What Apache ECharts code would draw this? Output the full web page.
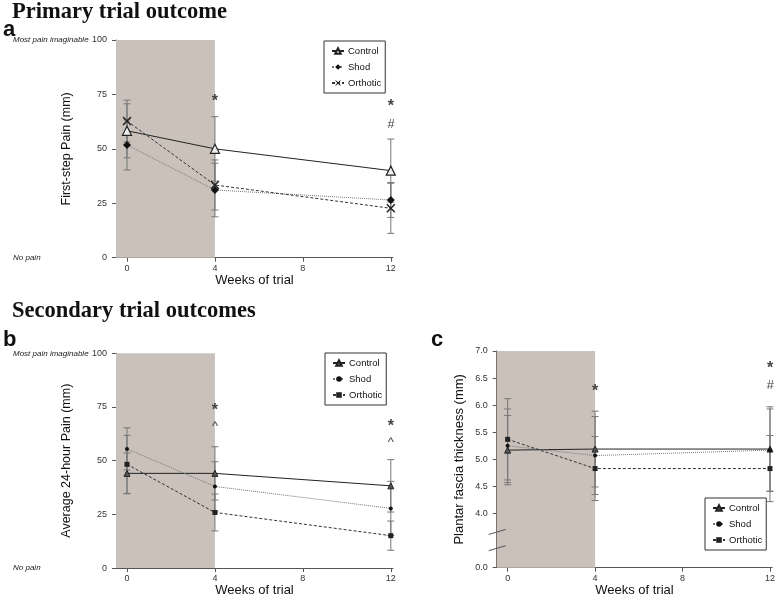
<!DOCTYPE html>
<html>
<head>
<meta charset="utf-8">
<script src="https://cdn.jsdelivr.net/npm/echarts@6/dist/echarts.min.js"></script>
<style>html,body{margin:0;padding:0;background:#fff}#c{width:778px;height:598px}</style>
</head>
<body>
<div id="c"></div>
<script>
// ---- data ----
const weeks = [0, 4, 12];
const weekTicks = [0, 4, 8, 12];
const shadedUntil = 4;
const seriesNames = ['Control', 'Shod', 'Orthotic'];

// Panel a: first-step pain (mm)
const aControl = [58.3, 50.0, 40.0];
const aControlErr = [12.4, 14.8, 14.5];
const aShod = [51.8, 31.1, 26.5];
const aShodErr = [11.5, 12.3, 8.0];
const aOrthotic = [62.8, 33.4, 22.7];
const aOrthoticErr = [9.6, 11.5, 11.5];
const aNotes = [[4, 72.9, '*'], [12, 70.6, '*'], [12, 61.3, '#']];

// Panel b: average 24-hour pain (mm)
const bControl = [44.1, 44.1, 38.3];
const bControlErr = [9.5, 12.4, 12.2];
const bShod = [55.5, 38.0, 27.8];
const bShodErr = [9.8, 11.5, 12.6];
const bOrthotic = [48.3, 25.9, 15.1];
const bOrthoticErr = [13.5, 8.6, 6.8];
const bNotes = [[4, 74.7, '*'], [4, 66.0, '^'], [12, 67.3, '*'], [12, 58.6, '^']];

// Panel c: plantar fascia thickness (mm)
const cControl = [5.17, 5.19, 5.19];
const cControlErr = [0.64, 0.70, 0.78];
const cShod = [5.25, 5.07, 5.17];
const cShodErr = [0.68, 0.72, 0.76];
const cOrthotic = [5.37, 4.83, 4.83];
const cOrthoticErr = [0.75, 0.59, 0.61];
const cNotes = [[4, 6.31, '*'], [12, 6.73, '*'], [12, 6.36, '#']];

const painTicks = [0, 25, 50, 75, 100];
const painScaleLabels = {0: 'No pain', 100: 'Most pain imaginable'};
const thickTicks = [3, 4, 4.5, 5, 5.5, 6, 6.5, 7];   // 3 = broken-axis floor shown as 0.0
const thickFloorLabel = '0.0';
const breakLevels = [3.36, 3.66];

// ---- helpers ----
const SANS = 'Liberation Sans, Arial, sans-serif';
const SERIF = 'Liberation Serif, Times New Roman, serif';
const SHADE = '#c9c1ba';
const AX = '#555';
const pts = v => weeks.map((w, i) => [w, v[i]]);
const errs = (v, e) => weeks.map((w, i) => [w, v[i] - e[i], v[i] + e[i]]);

function errSeries(xi, yi, v, e) {
  return {
    type: 'custom', xAxisIndex: xi, yAxisIndex: yi, silent: true, z: 2, clip: false,
    data: errs(v, e),
    renderItem: (p, api) => {
      const x = api.value(0), lo = api.coord([x, api.value(1)]), hi = api.coord([x, api.value(2)]);
      const hw = 3.5, st = {stroke: '#777', lineWidth: 1};
      return {type: 'group', children: [
        {type: 'line', shape: {x1: lo[0], y1: lo[1], x2: hi[0], y2: hi[1]}, style: st},
        {type: 'line', shape: {x1: lo[0] - hw, y1: lo[1], x2: lo[0] + hw, y2: lo[1]}, style: st},
        {type: 'line', shape: {x1: hi[0] - hw, y1: hi[1], x2: hi[0] + hw, y2: hi[1]}, style: st}
      ]};
    }
  };
}
function noteSeries(xi, yi, notes) {
  return {
    type: 'custom', xAxisIndex: xi, yAxisIndex: yi, silent: true, z: 5, clip: false,
    data: notes,
    renderItem: (p, api) => {
      const c = api.coord([api.value(0), api.value(1)]);
      const t = notes[p.dataIndex][2];
      const font = t === '*' ? 'bold 16px ' + SANS : (t === '#' ? 'italic 13px ' + SANS : '13px ' + SANS);
      return {type: 'text', x: c[0], y: c[1] + (t === '*' ? 3 : 0), style: {text: t, fill: '#444', font: font, align: 'center', verticalAlign: 'middle'}};
    }
  };
}
const XSYM = 'path://M0,1.2L1.2,0L5,3.8L8.8,0L10,1.2L6.2,5L10,8.8L8.8,10L5,6.2L1.2,10L0,8.8L3.8,5Z';
function lineSeries(prefix, name, xi, yi, vals, big, shade) {
  const s = {type: 'line', name: prefix + name, xAxisIndex: xi, yAxisIndex: yi, data: pts(vals), z: 3, animation: false};
  if (name === 'Control') {
    s.symbol = 'triangle'; s.symbolSize = big ? 9 : 6;
    s.itemStyle = {color: big ? '#eee' : '#555', borderColor: '#222', borderWidth: big ? 1.2 : 1};
    s.lineStyle = {color: '#222', width: 1, type: 'solid'};
  } else if (name === 'Shod') {
    s.symbol = big ? 'diamond' : 'circle'; s.symbolSize = big ? 8 : 4;
    s.itemStyle = {color: '#111'};
    s.lineStyle = {color: '#777', width: 1, type: 'dotted'};
  } else {
    s.symbol = big ? XSYM : 'rect'; s.symbolSize = big ? 9 : 5;
    s.itemStyle = {color: '#222'};
    s.lineStyle = {color: '#333', width: 1, type: [3, 2]};
  }
  if (shade) {
    s.markArea = {silent: true, itemStyle: {color: SHADE}, data: [[{xAxis: -0.5}, {xAxis: shadedUntil}]]};
  }
  return s;
}
function legend(prefix, left, top) {
  return {
    orient: 'vertical', left: left, top: top,
    data: seriesNames.map(n => prefix + n),
    formatter: n => n.slice(prefix.length),
    borderColor: '#333', borderWidth: 1, backgroundColor: '#fff',
    padding: [4, 4, 4, 7], itemWidth: 12, itemHeight: 7, itemGap: 4,
    selectedMode: false,
    textStyle: {fontFamily: SANS, fontSize: 9.5, color: '#111', lineHeight: 12, padding: [0, 0, 0, -1]}
  };
}
function xAxis(gi, nameGap) {
  return {
    type: 'value', gridIndex: gi, min: -0.5, max: 12.1,
    name: 'Weeks of trial', nameLocation: 'middle', nameGap: nameGap,
    nameTextStyle: {fontFamily: SANS, fontSize: 13, color: '#111'},
    axisLine: {onZero: false, lineStyle: {color: AX, width: 1}},
    axisTick: {show: true, length: 4, customValues: weekTicks, lineStyle: {color: AX}},
    axisLabel: {customValues: weekTicks, fontFamily: SANS, fontSize: 9, color: '#333', margin: 6},
    splitLine: {show: false}
  };
}
function painAxis(gi, name) {
  return {
    type: 'value', gridIndex: gi, min: 0, max: 100, interval: 25, position: 'left',
    name: name, nameLocation: 'middle', nameGap: 43,
    nameTextStyle: {fontFamily: SANS, fontSize: 12.5, color: '#111'},
    axisLine: {show: true, onZero: false, lineStyle: {color: AX, width: 1}},
    axisTick: {show: true, length: 4, lineStyle: {color: AX}},
    axisLabel: {fontFamily: SANS, fontSize: 9, color: '#333', margin: 9},
    splitLine: {show: false}
  };
}
function painSideAxis(gi) {
  return {
    type: 'value', gridIndex: gi, min: 0, max: 100, position: 'left',
    axisLine: {show: false}, axisTick: {show: false}, splitLine: {show: false},
    axisLabel: {customValues: [0, 100], formatter: v => painScaleLabels[v], align: 'left', margin: 103,
      fontFamily: SANS, fontSize: 8, fontStyle: 'italic', color: '#222'}
  };
}

const chart = echarts.init(document.getElementById('c'), null, {renderer: 'canvas'});
const option = {
  backgroundColor: '#fff',
  animation: false,
  title: [
    {text: 'Primary trial outcome', left: 12, top: 1, padding: 0, textStyle: {fontFamily: SERIF, fontWeight: 'bold', fontSize: 22.5, color: '#111'}},
    {text: 'Secondary trial outcomes', left: 12, top: 300, padding: 0, textStyle: {fontFamily: SERIF, fontWeight: 'bold', fontSize: 22.5, color: '#111'}},
    {text: 'a', left: 3, top: 19, padding: 0, textStyle: {fontFamily: SANS, fontWeight: 'bold', fontSize: 22, color: '#111'}},
    {text: 'b', left: 3, top: 329, padding: 0, textStyle: {fontFamily: SANS, fontWeight: 'bold', fontSize: 22, color: '#111'}},
    {text: 'c', left: 431, top: 329, padding: 0, textStyle: {fontFamily: SANS, fontWeight: 'bold', fontSize: 22, color: '#111'}}
  ],
  legend: [legend('a:', 324, 41), legend('b:', 325, 353), legend('c:', 705, 498)],
  grid: [
    {left: 116, top: 40, width: 277, height: 217.7},
    {left: 116, top: 353.3, width: 277, height: 216},
    {left: 496.7, top: 351, width: 276.3, height: 216.7}
  ],
  xAxis: [xAxis(0, 15), xAxis(1, 15), xAxis(2, 15)],
  yAxis: [
    painAxis(0, 'First-step Pain (mm)'),
    painSideAxis(0),
    painAxis(1, 'Average 24-hour Pain (mm)'),
    painSideAxis(1),
    {
      type: 'value', gridIndex: 2, min: 3, max: 7, position: 'left',
      name: 'Plantar fascia thickness (mm)', nameLocation: 'middle', nameGap: 31,
      nameTextStyle: {fontFamily: SANS, fontSize: 13, color: '#111'},
      axisLine: {show: true, onZero: false, lineStyle: {color: AX, width: 1}},
      axisTick: {show: true, length: 4, customValues: thickTicks, lineStyle: {color: AX}},
      axisLabel: {customValues: thickTicks, formatter: v => v === thickTicks[0] ? thickFloorLabel : v.toFixed(1),
        fontFamily: SANS, fontSize: 9, color: '#333', margin: 9},
      splitLine: {show: false}
    }
  ],
  series: [
    errSeries(0, 0, aControl, aControlErr), errSeries(0, 0, aShod, aShodErr), errSeries(0, 0, aOrthotic, aOrthoticErr),
    lineSeries('a:', 'Control', 0, 0, aControl, true, true),
    lineSeries('a:', 'Shod', 0, 0, aShod, true, false),
    lineSeries('a:', 'Orthotic', 0, 0, aOrthotic, true, false),
    noteSeries(0, 0, aNotes),

    errSeries(1, 2, bControl, bControlErr), errSeries(1, 2, bShod, bShodErr), errSeries(1, 2, bOrthotic, bOrthoticErr),
    lineSeries('b:', 'Control', 1, 2, bControl, false, true),
    lineSeries('b:', 'Shod', 1, 2, bShod, false, false),
    lineSeries('b:', 'Orthotic', 1, 2, bOrthotic, false, false),
    noteSeries(1, 2, bNotes),

    errSeries(2, 4, cControl, cControlErr), errSeries(2, 4, cShod, cShodErr), errSeries(2, 4, cOrthotic, cOrthoticErr),
    lineSeries('c:', 'Control', 2, 4, cControl, false, true),
    lineSeries('c:', 'Shod', 2, 4, cShod, false, false),
    lineSeries('c:', 'Orthotic', 2, 4, cOrthotic, false, false),
    noteSeries(2, 4, cNotes),
    {
      type: 'custom', xAxisIndex: 2, yAxisIndex: 4, silent: true, clip: false, z: 6,
      data: breakLevels.map(y => [-0.5, y]),
      renderItem: (p, api) => {
        const c = api.coord([api.value(0), api.value(1)]);
        return {type: 'line', shape: {x1: c[0] - 8, y1: c[1] + 2.5, x2: c[0] + 9, y2: c[1] - 2.5}, style: {stroke: '#555', lineWidth: 1}};
      }
    }
  ]
};
chart.setOption(option);
</script>
</body>
</html>
